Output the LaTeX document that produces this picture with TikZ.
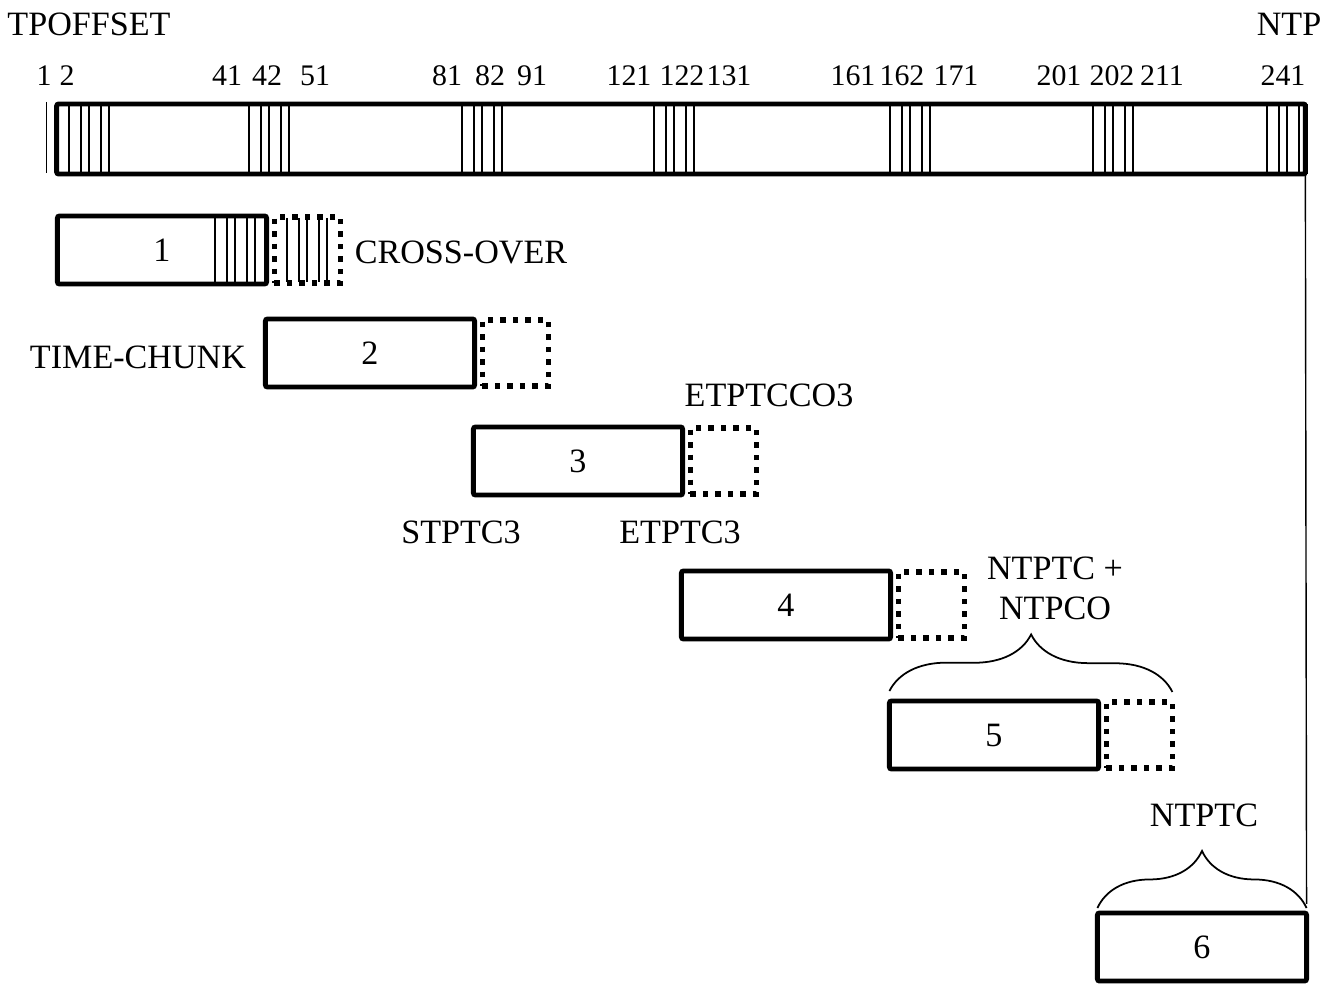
\documentclass[tikz,border=0pt]{standalone}
\usepackage{fontspec}
\setmainfont{Liberation Serif}
\usetikzlibrary{positioning,decorations.pathreplacing}

\begin{document}
\begin{tikzpicture}[x=0.01cm,y=-0.01cm,font=\fontsize{9.7}{11.4}\selectfont,
  chunk/.style={draw,line width=1.4pt,rounded corners=0.6pt,minimum width=2.09cm,minimum height=0.68cm,inner sep=0pt,outer sep=0pt},
  xover/.style={draw,line width=1.55pt,dash pattern=on 1.55pt off 2pt,minimum width=0.66cm,minimum height=0.66cm,inner sep=0pt,outer sep=0pt},
  lbl/.style={inner sep=0pt},
  num/.style={inner sep=0pt,font=\fontsize{8.5}{10}\selectfont},
  tick/.style={line width=0.4pt},
  brc/.style={decorate,decoration={brace,amplitude=0.57cm},line width=0.5pt}]
\useasboundingbox (0,0) rectangle (1342,988);
\node[lbl] (tpoff) at (89,24) {TPOFFSET};
\node[lbl] (ntp) at (1289,24) {NTP};
\foreach \x/\t in {44/1,67/2,227/41,267/42,315/51,447/81,490/82,532/91,629/121,682/122,729/131,853/161,902/162,956/171,1059/201,1112/202,1162/211,1283/241}
  \node[num] (n\t) at (\x,76) {\t};
\foreach \g in {69,249,462,654,890,1093,1267}
  \foreach \d in {0,12,20,32,40}
    \draw[tick] (\g+\d,104) -- (\g+\d,174);
\node[chunk,minimum width=12.48cm,minimum height=0.7cm] (bar) at (681,139) {};
\draw[tick] (46.7,102) -- (46.7,173);
\node[chunk] (b1) at (162,250) {1};
\node[chunk] (b2) at (370,353) {2};
\node[chunk] (b3) at (578,461) {3};
\node[chunk] (b4) at (786,605) {4};
\node[chunk] (b5) at (994,735) {5};
\node[chunk] (b6) at (1202,947) {6};
\foreach \k in {1,...,5}
  \node[xover,right=0.078cm of b\k] (c\k) {};
\foreach \d in {0,12,20,32,40} {
  \draw[tick] (215+\d,216) -- (215+\d,284);
  \draw[tick] (287+\d,218) -- (287+\d,282);
}
\node[lbl] (xol) at (461,252) {CROSS-OVER};
\node[lbl] (tcl) at (138,357) {TIME-CHUNK};
\node[lbl] (eco) at (769,395) {ETPTCCO3};
\node[lbl] (stp) at (461,532) {STPTC3};
\node[lbl] (etp) at (680,532) {ETPTC3};
\node[lbl,align=center] (ntpco) at (1055,588) {NTPTC +\\NTPCO};
\node[lbl] (ntptc) at (1204,815) {NTPTC};
\draw[brc] ([yshift=0.1cm]b5.north west) -- ([yshift=0.1cm]c5.north east);
\draw[brc] ([yshift=0.05cm]b6.north west) -- ([yshift=0.05cm]b6.north east);
\draw[tick] (bar.south east) -- ([yshift=0.09cm]b6.north east);
\end{tikzpicture}
\end{document}
